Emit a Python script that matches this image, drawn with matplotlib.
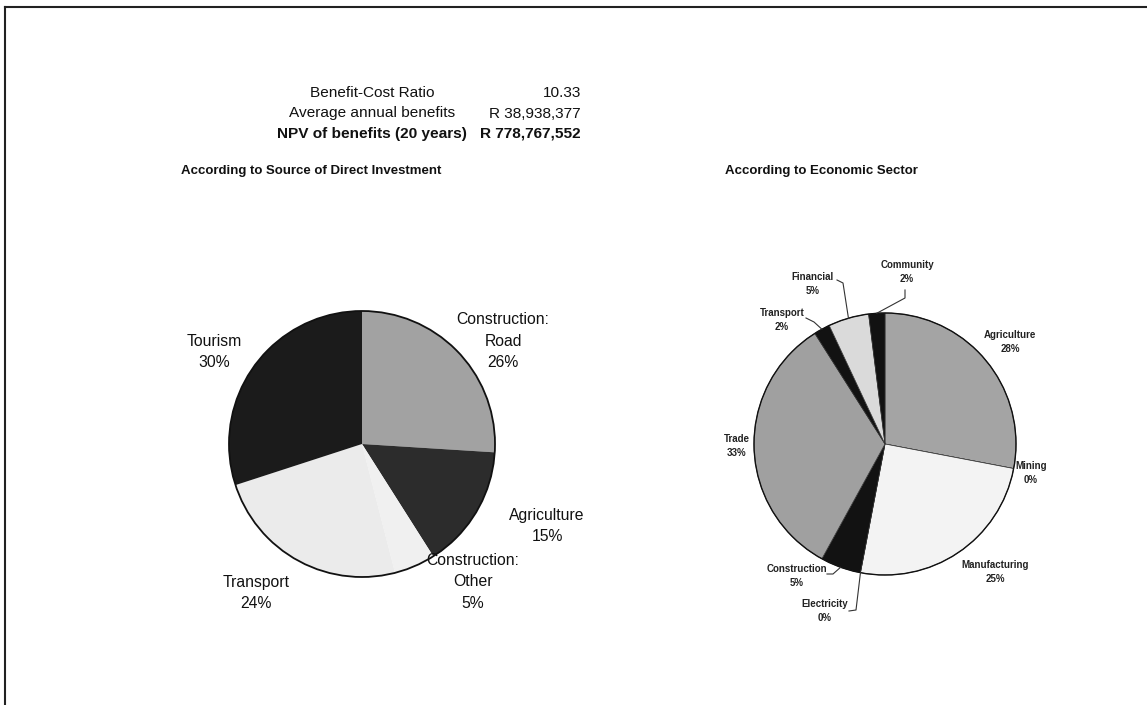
import matplotlib
matplotlib.use("Agg")
import matplotlib.pyplot as plt
from matplotlib.patches import Circle
from matplotlib.lines import Line2D
import numpy as np

plt.rcParams["font.family"] = ["Liberation Sans", "DejaVu Sans"]

W, H = 1147, 705

# summary figures
summary_labels = ["Benefit-Cost Ratio", "Average annual benefits",
                  "NPV of benefits (20 years)"]
summary_values = ["10.33", "R 38,938,377", "R 778,767,552"]

# direct investment split (%)
invest_names = ["Construction:\nRoad", "Agriculture", "Construction:\nOther",
                "Transport", "Tourism"]
invest_pct = [26, 15, 5, 24, 30]
invest_colors = ["#a2a2a2", "#2c2c2c", "#f0f0f0", "#ebebeb", "#1b1b1b"]

# economic sector split (%)
sector_names = ["Agriculture", "Mining", "Manufacturing", "Electricity",
                "Construction", "Trade", "Transport", "Financial", "Community"]
sector_pct = [28, 0, 25, 0, 5, 33, 2, 5, 2]
sector_colors = ["#a4a4a4", "#a4a4a4", "#f3f3f3", "#f3f3f3", "#121212",
                 "#a0a0a0", "#121212", "#dadada", "#121212"]


def py(y):
    # pixel row (from top) -> data y
    return H - y


fig = plt.figure(figsize=(W / 100, H / 100), dpi=100)
ax = fig.add_axes([0, 0, 1, 1])

# --- left pie -------------------------------------------------------------
lc, lr = (362, py(444)), 133
ax.pie(invest_pct, colors=invest_colors, startangle=90, counterclock=False,
       center=lc, radius=lr, wedgeprops=dict(linewidth=0))
ax.add_patch(Circle(lc, lr, fill=False, edgecolor="#111111", linewidth=1.3))

left_label_pos = [(503, 341), (547, 526), (473, 582), (256, 593), (214, 352)]
for name, pct, (x, y) in zip(invest_names, invest_pct, left_label_pos):
    ax.text(x, py(y), f"{name}\n{pct}%", ha="center", va="center",
            fontsize=11.3, linespacing=1.52, color="#111111")

# --- right pie ------------------------------------------------------------
rc, rr = (885, py(444)), 131
ax.pie(sector_pct, colors=sector_colors, startangle=90, counterclock=False,
       center=rc, radius=rr,
       wedgeprops=dict(linewidth=0.5, edgecolor="#333333"))
ax.add_patch(Circle(rc, rr, fill=False, edgecolor="#111111", linewidth=1.0))

# label centres, in pixel rows from the top
right_label_pos = {
    "Agriculture": (1010, 342),
    "Mining": (1031, 473),
    "Manufacturing": (995, 572),
    "Electricity": (825, 611),
    "Construction": (797, 576),
    "Trade": (737, 446),
    "Transport": (782, 320),
    "Financial": (813, 284),
    "Community": (907, 272),
}
# leader-line points from the label side towards the slice
leader_pts = {
    "Electricity": [(849, 611), (856, 610)],
    "Construction": [(827, 574), (833, 574)],
    "Transport": [(806, 318), (814, 322)],
    "Financial": [(837, 280), (843, 283)],
    "Community": [(905, 290), (905, 298)],
}

angle = 90.0
for name, pct in zip(sector_names, sector_pct):
    span = pct * 3.6
    mid = np.deg2rad(angle - span / 2)
    angle -= span
    x, y = right_label_pos[name]
    ax.text(x, py(y), f"{name}\n{pct}%", ha="center", va="center",
            fontsize=7, fontweight="bold", linespacing=1.6, color="#222222")
    if name in leader_pts:
        ex = rc[0] + rr * np.cos(mid)
        ey = rc[1] + rr * np.sin(mid)
        xs = [p[0] for p in leader_pts[name]] + [ex]
        ys = [py(p[1]) for p in leader_pts[name]] + [ey]
        ax.plot(xs, ys, color="#333333", linewidth=0.8)

# --- header text ----------------------------------------------------------
for i, (lab, val) in enumerate(zip(summary_labels, summary_values)):
    weight = "bold" if i == 2 else "normal"
    y = py(93 + i * 20.5)
    ax.text(372, y, lab, ha="center", va="center", fontsize=11.1,
            fontweight=weight, color="#111111")
    ax.text(581, y, val, ha="right", va="center", fontsize=11.1,
            fontweight=weight, color="#111111")

ax.text(311, py(171), "According to Source of Direct Investment", ha="center",
        va="center", fontsize=9.5, fontweight="bold", color="#111111")
ax.text(821, py(171), "According to Economic Sector", ha="center",
        va="center", fontsize=9.5, fontweight="bold", color="#111111")

ax.set_xlim(0, W)
ax.set_ylim(0, H)
ax.set_aspect("equal")
ax.axis("off")

# page frame (top and left edges)
fig.add_artist(Line2D([5 / W, 1], [1 - 7 / H, 1 - 7 / H], color="#222222",
                      linewidth=1.5, transform=fig.transFigure))
fig.add_artist(Line2D([5 / W, 5 / W], [0, 1 - 7 / H], color="#222222",
                      linewidth=1.5, transform=fig.transFigure))

fig.savefig("out.png", dpi=100, facecolor="white")
